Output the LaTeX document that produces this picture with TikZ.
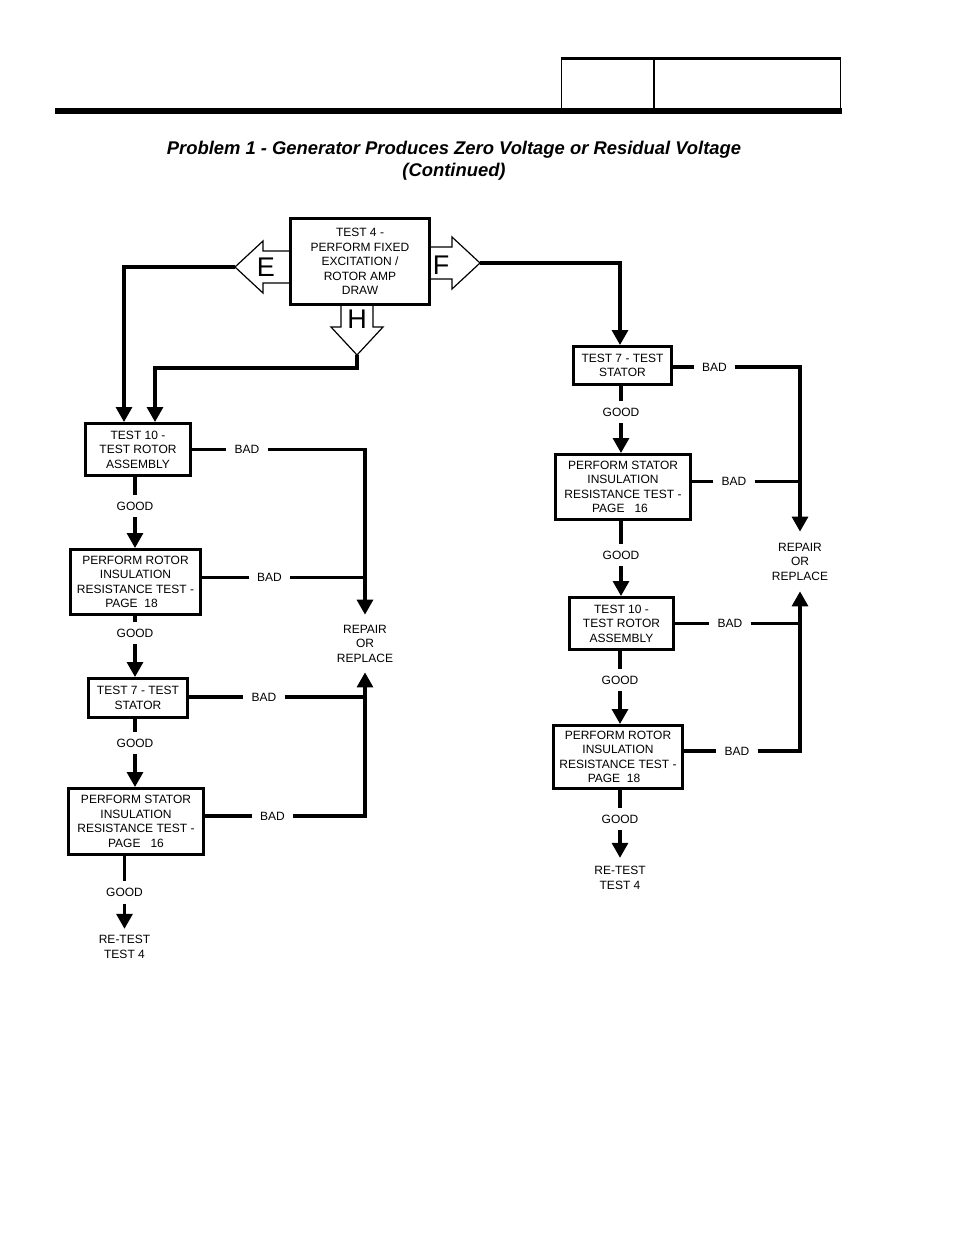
\documentclass[tikz,border=0pt]{standalone}
\usepackage{fontspec}
\setmainfont{Liberation Sans}
\usetikzlibrary{arrows.meta}
\newcommand\bxfont{\fontsize{12}{14.5}\selectfont}
\newcommand\ttlfont{\fontsize{18.4}{22}\selectfont\bfseries\itshape}
\newcommand\letfont{\fontsize{27}{27}\selectfont}
\begin{document}
\begin{tikzpicture}[x=1pt,y=-1pt,
  box/.style={draw, line width=3pt, fill=white, align=center, font=\bxfont, inner sep=0pt},
  lbl/.style={font=\bxfont, inner xsep=8pt, inner ysep=7pt},
  rep/.style={font=\bxfont, align=center, inner xsep=0pt, inner ysep=10pt},
  conn/.style={line width=3.2pt, line join=miter},
  arr/.style={conn, -{Triangle[width=16pt,length=15pt]}},
  hollow/.style={draw, line width=1.2pt, fill=white, line join=miter},
]
\useasboundingbox (0,0) rectangle (954,1235);
% header
\fill (55,108) rectangle (842,114);
\draw[line width=1.6pt] (561.5,108) -- (561.5,58) (654,58) -- (654,108) (840.5,58) -- (840.5,108);
\draw[line width=2.8pt] (560.7,58.4) -- (841.3,58.4);
% title
\node[font=\ttlfont, anchor=base, inner sep=0pt] (t1) at (454,154.6) {Problem 1 - Generator Produces Zero Voltage or Residual Voltage};
\node[font=\ttlfont, anchor=base, inner sep=0pt] (t2) at (454,176.6) {(Continued)};
% hollow arrows
\draw[hollow] (290,251) -- (263,251) -- (263,241) -- (235,267) -- (263,293) -- (263,283) -- (290,283);
\node[font=\letfont, inner sep=0pt] (Elet) at (266,267.5) {E};
\coordinate (Etip) at (235,267);
\draw[hollow] (430,247) -- (452,247) -- (452,237) -- (480,263) -- (452,289) -- (452,279) -- (430,279);
\node[font=\letfont, inner sep=0pt] (Flet) at (441,265) {F};
\coordinate (Ftip) at (480,263);
\draw[hollow] (341,305) -- (341,327) -- (331,327) -- (357,355) -- (383,327) -- (373,327) -- (373,305);
\node[font=\letfont, inner sep=0pt] (Hlet) at (357,319) {H};
\coordinate (Htip) at (357,355);
% main box
\node[box, minimum width=139pt, minimum height=86pt] (T4) at (360,261.5) {\raisebox{-2pt}{\parbox{135pt}{\centering TEST 4 -\\PERFORM FIXED\\EXCITATION /\\ROTOR AMP\\DRAW}}};
% left column
\node[box, minimum width=105pt, minimum height=52pt] (L1) at (138,449.5) {TEST 10 -\\TEST ROTOR\\ASSEMBLY};
\node[box, minimum width=130pt, minimum height=65pt] (L2) at (135.5,582) {PERFORM ROTOR\\INSULATION\\RESISTANCE TEST -\\PAGE~~18\hspace*{8pt}};
\node[box, minimum width=99pt, minimum height=39pt] (L3) at (138,698) {TEST 7 - TEST\\STATOR};
\node[box, minimum width=135pt, minimum height=66pt] (L4) at (136,821.5) {PERFORM STATOR\\INSULATION\\RESISTANCE TEST -\\PAGE~~~16};
% right column
\node[box, minimum width=98pt, minimum height=38pt] (R1) at (622.5,365.5) {TEST 7 - TEST\\STATOR};
\node[box, minimum width=135pt, minimum height=65pt] (R2) at (623,487) {PERFORM STATOR\\INSULATION\\RESISTANCE TEST -\\PAGE~~~16\hspace*{6pt}};
\node[box, minimum width=104pt, minimum height=52pt] (R3) at (621.5,623.5) {TEST 10 -\\TEST ROTOR\\ASSEMBLY};
\node[box, minimum width=129pt, minimum height=63pt] (R4) at (618,757) {PERFORM ROTOR\\INSULATION\\RESISTANCE TEST -\\PAGE~~18\hspace*{8pt}};
% labels left
\node[lbl] (gL1) at (135,506) {GOOD};
\node[lbl] (bL1) at (247,449.5) {BAD};
\node[lbl] (gL2) at (135,633) {GOOD};
\node[lbl] (bL2) at (269.5,577.5) {BAD};
\node[lbl] (gL3) at (135,743) {GOOD};
\node[lbl] (bL3) at (264,697) {BAD};
\node[lbl] (gL4) at (124.5,892.5) {GOOD};
\node[lbl] (bL4) at (272.5,816) {BAD};
\node[rep, inner ysep=6.5pt] (retL) at (124.5,947) {RE-TEST\\TEST 4};
\node[rep] (repL) at (365,643.5) {REPAIR\\OR\\REPLACE};
% labels right
\node[lbl] (gR1) at (621,412) {GOOD};
\node[lbl] (bR1) at (714.5,367) {BAD};
\node[lbl] (gR2) at (621,555) {GOOD};
\node[lbl] (bR2) at (734,481.5) {BAD};
\node[lbl] (gR3) at (620,680) {GOOD};
\node[lbl] (bR3) at (730,623.5) {BAD};
\node[lbl] (gR4) at (620,819) {GOOD};
\node[lbl] (bR4) at (737,751) {BAD};
\node[rep, inner ysep=8.5pt] (retR) at (620,878) {RE-TEST\\TEST 4};
\node[rep, inner ysep=11pt] (repR) at (800,561.5) {REPAIR\\OR\\REPLACE};
% top connectors
\draw[arr] (Etip) -| ([xshift=-14pt]L1.north);
\draw[arr] (Htip) -- ++(0,13) -| ([xshift=17pt]L1.north);
\draw[arr] (Ftip) -| ([xshift=-2.5pt]R1.north);
% left GOOD chain
\draw[conn] (L1.south -| gL1) -- (gL1.north);
\draw[arr] (gL1.south) -- (gL1.south |- L2.north);
\draw[conn] (L2.south -| gL2) -- (gL2.north);
\draw[arr] (gL2.south) -- (gL2.south |- L3.north);
\draw[conn] (L3.south -| gL3) -- (gL3.north);
\draw[arr] (gL3.south) -- (gL3.south |- L4.north);
\draw[conn] (L4.south -| gL4) -- (gL4.north);
\draw[arr] (gL4.south) -- (gL4.south |- retL.north);
% left BAD
\draw[conn] (L1.east |- bL1) -- (bL1.west);
\draw[arr] (bL1.east) -| (repL.north);
\draw[conn] (L2.east |- bL2) -- (bL2.west);
\draw[conn] (bL2.east) -- (bL2.east -| repL.north);
\draw[conn] (L3.east |- bL3) -- (bL3.west);
\draw[conn] (bL3.east) -- (bL3.east -| repL.south);
\draw[conn] (L4.east |- bL4) -- (bL4.west);
\draw[arr] (bL4.east) -| (repL.south);
% right GOOD chain
\draw[conn] (R1.south -| gR1) -- (gR1.north);
\draw[arr] (gR1.south) -- (gR1.south |- R2.north);
\draw[conn] (R2.south -| gR2) -- (gR2.north);
\draw[arr] (gR2.south) -- (gR2.south |- R3.north);
\draw[conn] (R3.south -| gR3) -- (gR3.north);
\draw[arr] (gR3.south) -- (gR3.south |- R4.north);
\draw[conn] (R4.south -| gR4) -- (gR4.north);
\draw[arr] (gR4.south) -- (gR4.south |- retR.north);
% right BAD
\draw[conn] (R1.east |- bR1) -- (bR1.west);
\draw[arr] (bR1.east) -| (repR.north);
\draw[conn] (R2.east |- bR2) -- (bR2.west);
\draw[conn] (bR2.east) -- (bR2.east -| repR.north);
\draw[conn] (R3.east |- bR3) -- (bR3.west);
\draw[conn] (bR3.east) -- (bR3.east -| repR.south);
\draw[conn] (R4.east |- bR4) -- (bR4.west);
\draw[arr] (bR4.east) -| (repR.south);
\end{tikzpicture}
\end{document}
